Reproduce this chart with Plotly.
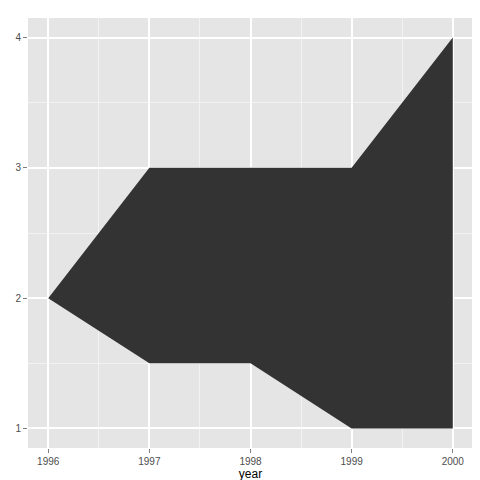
import plotly.graph_objects as go

years = [1996, 1997, 1998, 1999, 2000]
ymin = [2, 1.5, 1.5, 1, 1]
ymax = [2, 3, 3, 3, 4]

fig = go.Figure()
fig.add_trace(go.Scatter(x=years, y=ymin, mode="lines", line=dict(width=0, color="#333333"),
                         showlegend=False, hoverinfo="skip"))
fig.add_trace(go.Scatter(x=years, y=ymax, mode="lines", fill="tonexty", fillcolor="#333333",
                         line=dict(width=0, color="#333333"), showlegend=False))

axis_common = dict(showgrid=True, gridcolor="white", gridwidth=1.5, zeroline=False,
                   ticks="outside", ticklen=4, tickcolor="#7f7f7f", automargin=False,
                   tickfont=dict(family="Liberation Sans", size=10, color="#4d4d4d"),
                   minor=dict(showgrid=True, gridcolor="#F2F2F2", gridwidth=0.8))

fig.update_layout(
    width=480, height=480,
    margin=dict(l=20, r=15, t=10, b=40),
    paper_bgcolor="white", plot_bgcolor="#E5E5E5",
    xaxis=dict(range=[1995.8, 2000.2], tickvals=years, dtick=1,
               title=dict(text="year", font=dict(family="Liberation Sans", size=12, color="black"),
                          standoff=2), **axis_common),
    yaxis=dict(range=[0.85, 4.15], tickvals=[1, 2, 3, 4], dtick=1, **axis_common),
)
fig.update_xaxes(minor=dict(dtick=0.5, tick0=1996.5))
fig.update_yaxes(minor=dict(dtick=0.5, tick0=0.5))

fig.write_html("out.html")
